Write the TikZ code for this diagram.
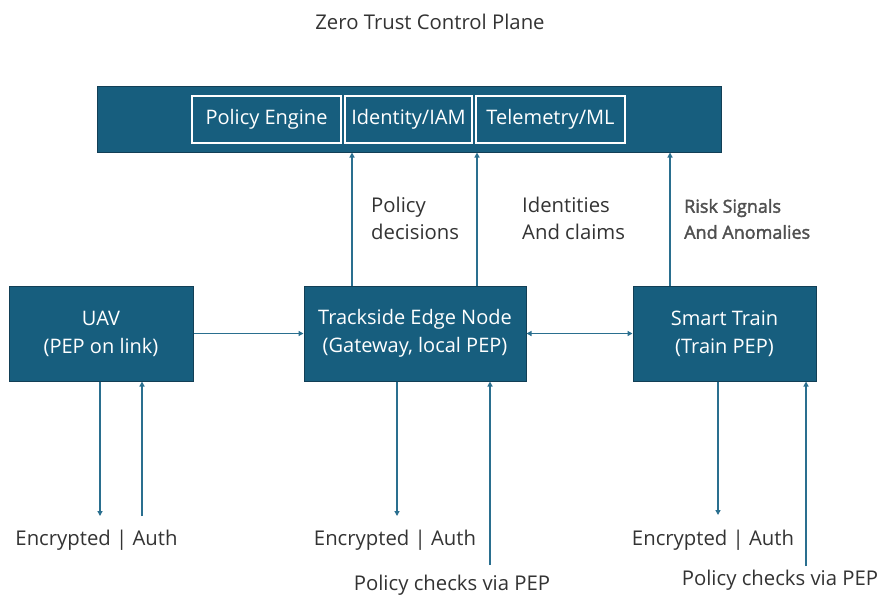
\documentclass[tikz,border=0pt]{standalone}
\usepackage{fontspec}
\setmainfont{Open Sans}
\newfontfamily\semib[FakeBold=2]{Open Sans}
\usetikzlibrary{arrows.meta}
\definecolor{boxfill}{HTML}{175E7E}
\definecolor{boxline}{HTML}{123F56}
\definecolor{arr}{HTML}{2A6F8F}
\definecolor{txt}{HTML}{333333}
\definecolor{txtg}{HTML}{505050}
\begin{document}
\begin{tikzpicture}[x=1pt,y=-1pt,
  blk/.style={draw=boxline, line width=1pt, fill=boxfill, text=white, align=center,
    inner sep=0pt, font=\fontsize{20}{28}\selectfont},
  inner/.style={draw=white, line width=1.3pt, fill=boxfill, text=white,
    inner sep=0pt, minimum height=47pt, font=\fontsize{20}{24}\selectfont},
  conn/.style={draw=arr, line width=1.3pt, -{Triangle[length=5pt,width=5pt]}},
  lbl/.style={text=txt, inner sep=0pt, font=\fontsize{20.3}{27}\selectfont},
  risk/.style={text=txtg, inner sep=0pt, align=left, font=\semib\fontsize{18}{26}\selectfont}
]
\useasboundingbox (0,0) rectangle (882,598);
\fill[white] (0,0) rectangle (882,598);

\node[lbl] (title) at (430,22) {Zero Trust Control Plane};

% control plane bar
\node[blk, minimum width=624pt, minimum height=66pt] (bar) at (409,119) {};
\node[inner, minimum width=149pt] (pe) at (266.5,119.5) {Policy Engine};
\node[inner, minimum width=127pt] (iam) at (408.5,119.5) {Identity/IAM};
\node[inner, minimum width=149pt] (tml) at (550.5,119.5) {Telemetry/ML};

% main boxes
\node[blk, minimum width=184pt, minimum height=95pt] (uav) at (101,333.5) {UAV\\(PEP on link)};
\node[blk, minimum width=222pt, minimum height=95pt] (edge) at (415,333.5) {Trackside Edge Node\\(Gateway, local PEP)};
\node[blk, minimum width=183pt, minimum height=95pt] (train) at (724.5,333.5) {Smart Train\\(Train PEP)};

% horizontal links
\draw[conn] (uav.east) -- (edge.west);
\draw[conn, {Triangle[length=5pt,width=5pt]}-{Triangle[length=5pt,width=5pt]}] (edge.east) -- (train.west);

% up to control plane
\draw[conn] (edge.north -| 352,0) -- (bar.south -| 352,0);
\draw[conn] (edge.north -| 477,0) -- (bar.south -| 477,0);
\draw[conn] (train.north -| 670,0) -- (bar.south -| 670,0);

\node[lbl, align=left, anchor=west] (pd) at (371,218.5) {Policy\\decisions};
\node[lbl, align=left, anchor=west] (ic) at (522,218.5) {Identities\\And claims};
\node[risk, anchor=west] (rs) at (684,219) {Risk Signals\\And Anomalies};

% bottom endpoints
\coordinate (uavd) at (100,516);
\coordinate (uavu) at (142,516);
\coordinate (edged) at (397,516);
\coordinate (edgeu) at (490,565);
\coordinate (traind) at (718,515);
\coordinate (trainu) at (806,566);

\draw[conn] (uav.south -| uavd) -- (uavd);
\draw[conn] (uavu) -- (uav.south -| uavu);
\draw[conn] (edge.south -| edged) -- (edged);
\draw[conn] (edgeu) -- (edge.south -| edgeu);
\draw[conn] (train.south -| traind) -- (traind);
\draw[conn] (trainu) -- (train.south -| trainu);

\node[lbl] (ea1) at (96.5,540) {Encrypted | Auth};
\node[lbl] (ea2) at (395,540) {Encrypted | Auth};
\node[lbl] (ea3) at (713,540) {Encrypted | Auth};
\node[lbl] (pc1) at (452,585) {Policy checks via PEP};
\node[lbl] (pc2) at (780,580) {Policy checks via PEP};
\end{tikzpicture}
\end{document}
